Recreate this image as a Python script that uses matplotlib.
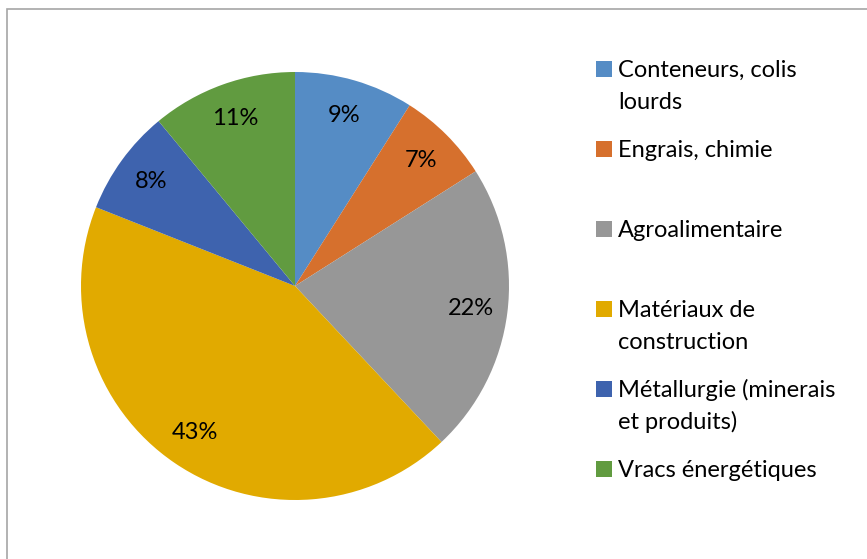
import matplotlib.pyplot as plt
from matplotlib.patches import Rectangle

labels = ["Conteneurs, colis\nlourds", "Engrais, chimie", "Agroalimentaire",
          "Matériaux de\nconstruction", "Métallurgie (minerais\net produits)",
          "Vracs énergétiques"]
values = [9, 7, 22, 43, 8, 11]
colors = ["#558CC5", "#D6702D", "#979797", "#E1AA00", "#3E63AE", "#619B40"]

W, H = 867, 559
fig = plt.figure(figsize=(W / 100, H / 100), dpi=100)
plt.rcParams['font.family'] = ['Lato', 'DejaVu Sans']
fs = 17

# chart area border (top and left only visible)
fig.patches.append(Rectangle((7 / W, -0.1), 1.2, (H - 9) / H + 0.1,
                             transform=fig.transFigure, fill=False,
                             edgecolor="#A6A6A6", linewidth=1.2))

# pie: centre (295, 286), radius 214 px
cx, cy, r = 295, 286, 214
ax = fig.add_axes([(cx - r) / W, (H - cy - r) / H, 2 * r / W, 2 * r / H])
ax.pie(values, colors=colors, startangle=90, counterclock=False,
       autopct='%d%%', pctdistance=0.83,
       wedgeprops=dict(linewidth=0),
       textprops=dict(fontsize=fs, color="black"))
ax.set_xlim(-1, 1)
ax.set_ylim(-1, 1)
ax.set_aspect('equal')
ax.axis('off')

# legend: slots of 80 px, first line aligned with square
for i, (lab, col) in enumerate(zip(labels, colors)):
    yb = 77 + 80 * i
    fig.patches.append(Rectangle((596 / W, (H - yb) / H), 16 / W, 16 / H,
                                 transform=fig.transFigure, facecolor=col,
                                 edgecolor='none'))
    for j, line in enumerate(lab.split("\n")):
        fig.text(618 / W, (H - yb - 32 * j) / H, line, fontsize=fs,
                 va='baseline', ha='left', color="black")

fig.savefig("out.png", dpi=100)
